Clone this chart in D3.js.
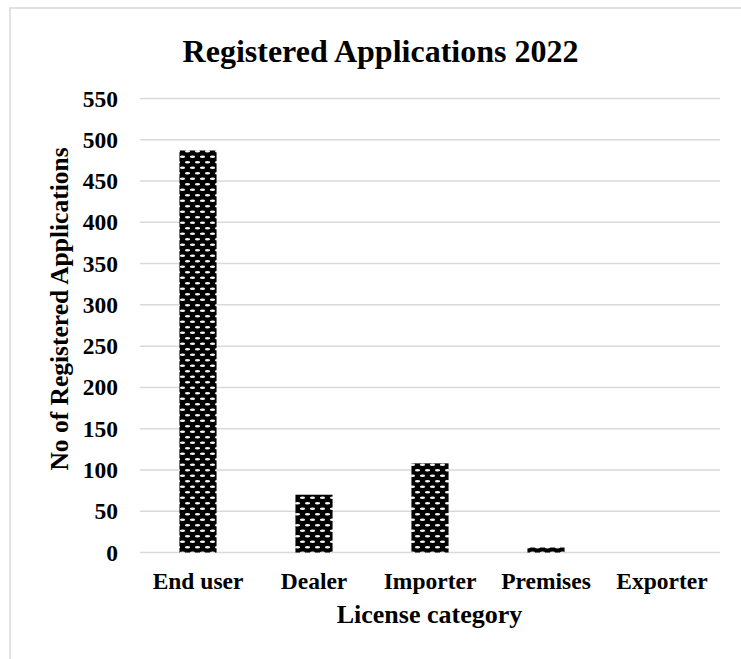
<!DOCTYPE html>
<html><head><meta charset="utf-8">
<script src="https://cdn.jsdelivr.net/npm/d3@7"></script>
<style>body{margin:0;background:#fff}svg{display:block}text{font-family:"Liberation Serif","Times New Roman",serif;font-weight:bold;fill:#000}</style>
</head><body>
<script>
const categories = ["End user","Dealer","Importer","Premises","Exporter"];
const values = [487, 70, 108, 6, 0];
const yTicks = [0,50,100,150,200,250,300,350,400,450,500,550];
const title = "Registered Applications 2022";
const xTitle = "License category";
const yTitle = "No of Registered Applications";

const W = 741, H = 659;
const m = {left:140, right:21, top:98.5, bottom:106.5};
const svg = d3.select("body").append("svg").attr("width",W).attr("height",H);

const defs = svg.append("defs");
const tw = 10, th = 11;
const pat = defs.append("pattern").attr("id","dots").attr("patternUnits","userSpaceOnUse")
  .attr("width",tw).attr("height",th);
pat.append("rect").attr("width",tw).attr("height",th).attr("fill","#000");
pat.append("ellipse").attr("cx",tw*0.25).attr("cy",th*0.25).attr("rx",2.6).attr("ry",1.25).attr("fill","#f4f4f4");
pat.append("ellipse").attr("cx",tw*0.75).attr("cy",th*0.75).attr("rx",2.6).attr("ry",1.25).attr("fill","#f4f4f4");

// chart border
svg.append("rect").attr("x",10).attr("y",8).attr("width",W+20).attr("height",H+20)
  .attr("fill","none").attr("stroke","#d9d9d9").attr("stroke-width",1.5);

const x = d3.scaleBand().domain(categories).range([m.left, W-m.right]).paddingInner(0.68).paddingOuter(0.34);
const y = d3.scaleLinear().domain([0,550]).range([H-m.bottom, m.top]);

// gridlines
svg.append("g").selectAll("line").data(yTicks).join("line")
  .attr("x1",m.left).attr("x2",W-m.right).attr("y1",d=>y(d)).attr("y2",d=>y(d))
  .attr("stroke","#d9d9d9").attr("stroke-width",1.5);

// y axis labels
const yAxis = d3.axisLeft(y).tickValues(yTicks).tickSize(0).tickPadding(22);
const gy = svg.append("g").attr("transform",`translate(${m.left},0)`).call(yAxis);
gy.select(".domain").remove();
gy.selectAll("text").style("font-size","23.5px").style("font-family","Liberation Serif").style("font-weight","bold").attr("fill","#000");

// bars
svg.append("g").selectAll("rect").data(values).join("rect")
  .attr("x",(d,i)=>x(categories[i])).attr("width",x.bandwidth())
  .attr("y",d=>y(d)).attr("height",d=>y(0)-y(d)).attr("fill","url(#dots)");

// x axis labels
const xAxis = d3.axisBottom(x).tickSize(0).tickPadding(20);
const gx = svg.append("g").attr("transform",`translate(0,${y(0)})`).call(xAxis);
gx.select(".domain").remove();
gx.selectAll("text").style("font-size","23.5px").style("font-family","Liberation Serif").style("font-weight","bold").attr("fill","#000");

// titles
svg.append("text").attr("x",380.5).attr("y",62).attr("text-anchor","middle").style("font-size","32px").text(title);
svg.append("text").attr("x",429.5).attr("y",623).attr("text-anchor","middle").style("font-size","26px").text(xTitle);
svg.append("text").attr("transform","translate(68,309) rotate(-90)").attr("text-anchor","middle").style("font-size","25.5px").text(yTitle);
</script>
</body></html>
